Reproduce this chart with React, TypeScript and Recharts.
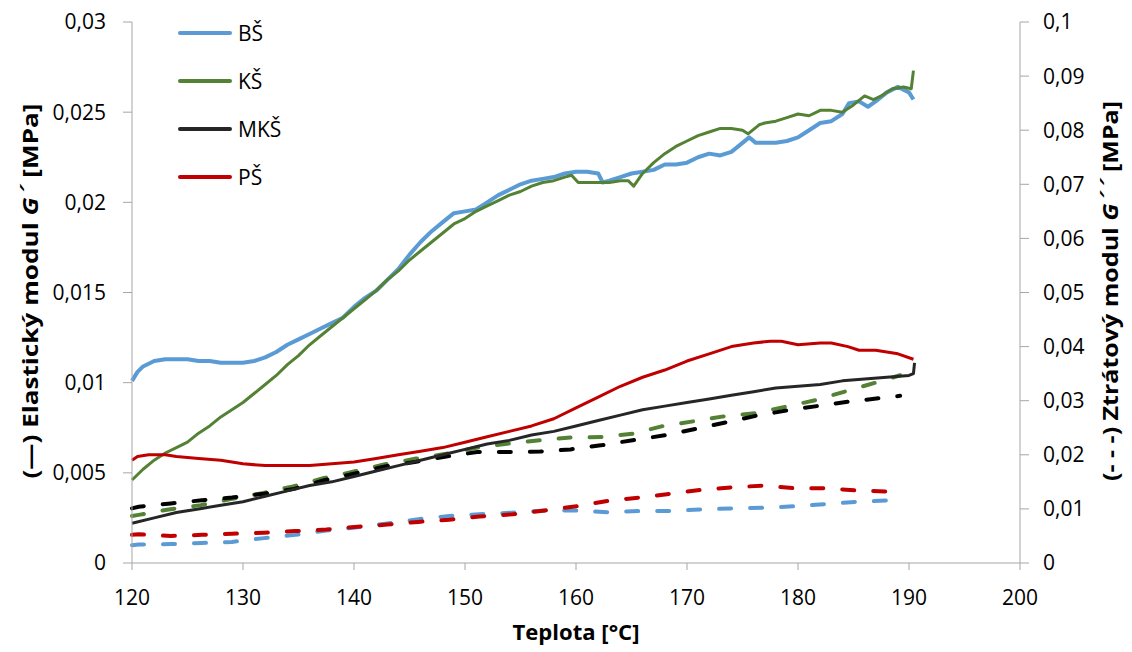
import { Legend, Line, LineChart, XAxis, YAxis } from "recharts";

const xTicks = [120, 130, 140, 150, 160, 170, 180, 190, 200];
const leftTicks = [0, 0.005, 0.01, 0.015, 0.02, 0.025, 0.03];
const rightTicks = [0, 0.01, 0.02, 0.03, 0.04, 0.05, 0.06, 0.07, 0.08, 0.09, 0.1];

const seriesNames = ["BŠ", "KŠ", "MKŠ", "PŠ"];
const seriesColors = ["#5B9BD5", "#548235", "#262626", "#C00000"];
const dashedColors = ["#5B9BD5", "#548235", "#000000", "#C00000"];

// G' (left axis), [teplota, MPa]
const bsElastic = [
  [120, 0.0101], [120.5, 0.0106], [121, 0.0109], [122, 0.0112], [123, 0.0113], [124, 0.0113],
  [125, 0.0113], [126, 0.0112], [127, 0.0112], [128, 0.0111], [129, 0.0111], [130, 0.0111],
  [131, 0.0112], [132, 0.0114], [133, 0.0117], [134, 0.0121], [135, 0.0124], [136, 0.0127],
  [137, 0.013], [138, 0.0133], [139, 0.0136], [140, 0.0142], [141, 0.0147], [142, 0.0151],
  [143, 0.0157], [144, 0.0163], [145, 0.0171], [146, 0.0178], [147, 0.0184], [148, 0.0189],
  [149, 0.0194], [150, 0.0195], [151, 0.0196], [152, 0.02], [153, 0.0204], [154, 0.0207],
  [155, 0.021], [156, 0.0212], [157, 0.0213], [158, 0.0214], [159, 0.0216], [160, 0.0217],
  [161, 0.0217], [162, 0.0216], [162.4, 0.0211], [163, 0.0212], [164, 0.0214], [165, 0.0216],
  [166, 0.0217], [167, 0.0218], [168, 0.0221], [169, 0.0221], [170, 0.0222], [171, 0.0225],
  [172, 0.0227], [173, 0.0226], [174, 0.0228], [175, 0.0233], [175.6, 0.0236], [176.2, 0.0233],
  [177, 0.0233], [178, 0.0233], [179, 0.0234], [180, 0.0236], [181, 0.024], [182, 0.0244],
  [183, 0.0245], [184, 0.0249], [184.6, 0.0255], [185.5, 0.0256], [186.3, 0.0253], [187, 0.0256],
  [188, 0.0261], [189, 0.0264], [190, 0.0261], [190.4, 0.0257],
];
const ksElastic = [
  [120, 0.0046], [121, 0.0052], [122, 0.0057], [123, 0.0061], [124, 0.0064], [125, 0.0067],
  [126, 0.0072], [127, 0.0076], [128, 0.0081], [129, 0.0085], [130, 0.0089], [131, 0.0094],
  [132, 0.0099], [133, 0.0104], [134, 0.011], [135, 0.0115], [136, 0.0121], [137, 0.0126],
  [138, 0.0131], [139, 0.0136], [140, 0.0141], [141, 0.0146], [142, 0.0151], [143, 0.0157],
  [144, 0.0162], [145, 0.0168], [146, 0.0173], [147, 0.0178], [148, 0.0183], [149, 0.0188],
  [150, 0.0191], [151, 0.0195], [152, 0.0198], [153, 0.0201], [154, 0.0204], [155, 0.0206],
  [156, 0.0209], [157, 0.0211], [158, 0.0212], [159, 0.0214], [159.6, 0.0215], [160.2, 0.0211],
  [161, 0.0211], [162, 0.0211], [163, 0.0211], [164, 0.0212], [164.7, 0.0212], [165.2, 0.0209],
  [166, 0.0216], [167, 0.0222], [168, 0.0227], [169, 0.0231], [170, 0.0234], [171, 0.0237],
  [172, 0.0239], [173, 0.0241], [174, 0.0241], [175, 0.024], [175.5, 0.0238], [176.5, 0.0243],
  [177, 0.0244], [178, 0.0245], [179, 0.0247], [180, 0.0249], [181, 0.0248], [182, 0.0251],
  [183, 0.0251], [184, 0.025], [185, 0.0254], [186, 0.0259], [186.8, 0.0257], [187.5, 0.0259],
  [188.5, 0.0263], [189.5, 0.0264], [190.2, 0.0263], [190.4, 0.0273],
];
const mksElastic = [
  [120, 0.0022], [122, 0.0025], [124, 0.0028], [126, 0.003], [128, 0.0032], [130, 0.0034],
  [132, 0.0037], [134, 0.004], [136, 0.0043], [138, 0.0045], [140, 0.0048], [142, 0.0051],
  [144, 0.0054], [146, 0.0057], [148, 0.006], [150, 0.0063], [152, 0.0066], [154, 0.0068],
  [156, 0.0071], [158, 0.0073], [160, 0.0076], [162, 0.0079], [164, 0.0082], [166, 0.0085],
  [168, 0.0087], [170, 0.0089], [172, 0.0091], [174, 0.0093], [176, 0.0095], [178, 0.0097],
  [180, 0.0098], [182, 0.0099], [184, 0.0101], [186, 0.0102], [188, 0.0103], [190, 0.0104],
  [190.4, 0.0105], [190.5, 0.0111],
];
const psElastic = [
  [120, 0.0057], [120.5, 0.0059], [121.5, 0.006], [123, 0.006], [124, 0.0059], [126, 0.0058],
  [128, 0.0057], [130, 0.0055], [132, 0.0054], [134, 0.0054], [136, 0.0054], [138, 0.0055],
  [140, 0.0056], [142, 0.0058], [144, 0.006], [146, 0.0062], [148, 0.0064], [150, 0.0067],
  [152, 0.007], [154, 0.0073], [156, 0.0076], [158, 0.008], [160, 0.0086], [162, 0.0092],
  [164, 0.0098], [166, 0.0103], [168, 0.0107], [170, 0.0112], [172, 0.0116], [174, 0.012],
  [176, 0.0122], [177.5, 0.0123], [178.5, 0.0123], [180, 0.0121], [182, 0.0122], [183, 0.0122],
  [184.5, 0.012], [185.5, 0.0118], [187, 0.0118], [189, 0.0116], [190.4, 0.0113],
];

// G'' (right axis), [teplota, MPa]
const bsLoss = [
  [120, 0.0033], [120.6, 0.0034], [123.5, 0.0035], [126.3, 0.0037], [129, 0.0039], [131.9, 0.0046],
  [134.7, 0.0052], [137.5, 0.006], [140.3, 0.0066], [143, 0.0073], [145.8, 0.0081], [148.6, 0.0087],
  [151.3, 0.009], [154.2, 0.0093], [157.2, 0.0097], [159.9, 0.0097], [162.8, 0.0094], [165.7, 0.0096],
  [168.5, 0.0096], [171.2, 0.0099], [174.1, 0.0101], [176.9, 0.0102], [179.8, 0.0105], [182.5, 0.0109],
  [185.3, 0.0113], [188.4, 0.0116], [189.4, 0.0116],
];
const ksLoss = [
  [120, 0.0087], [120.6, 0.0089], [123.3, 0.0099], [126.2, 0.0107], [128.9, 0.0118], [131.7, 0.0129],
  [134.4, 0.0141], [137.3, 0.0157], [140, 0.0169], [142.7, 0.0182], [145.6, 0.0193], [148.3, 0.0202],
  [151, 0.0213], [154, 0.0221], [156.8, 0.0227], [159.5, 0.0232], [162.4, 0.0233], [165.1, 0.0239],
  [167.8, 0.0253], [170.6, 0.0262], [173.3, 0.0271], [176.2, 0.0277], [178.9, 0.0289], [181.6, 0.0301],
  [184.4, 0.0318], [187.1, 0.0334], [189.2, 0.0347],
];
const mksLoss = [
  [120, 0.0101], [120.6, 0.0104], [123.5, 0.011], [126.3, 0.0116], [129, 0.0121], [131.9, 0.0128],
  [134.6, 0.0137], [137.3, 0.0153], [140.2, 0.0166], [142.9, 0.0179], [145.6, 0.0187], [148.3, 0.0197],
  [151.1, 0.0205], [154, 0.0205], [156.8, 0.0206], [159.5, 0.021], [162.4, 0.0218], [165.1, 0.0227],
  [168, 0.0236], [170.8, 0.0248], [173.5, 0.026], [176.2, 0.0272], [179, 0.0282], [181.7, 0.029],
  [184.5, 0.0298], [187.9, 0.0306], [189.2, 0.0309],
];
const psLoss = [
  [120, 0.0052], [120.6, 0.0053], [123.5, 0.005], [126.3, 0.0052], [129, 0.0054], [131.9, 0.0056],
  [134.7, 0.0059], [137.5, 0.0062], [140.3, 0.0067], [143, 0.0071], [145.8, 0.0076], [148.6, 0.008],
  [151.3, 0.0086], [154.3, 0.009], [157.2, 0.0097], [160.1, 0.0105], [162.9, 0.0115], [165.7, 0.0121],
  [168.5, 0.0128], [171.2, 0.0135], [174.1, 0.014], [176.9, 0.0143], [179.8, 0.0138], [182.5, 0.0138],
  [185.3, 0.0134], [188.4, 0.0132], [189.4, 0.0131],
];

const elastic = [bsElastic, ksElastic, mksElastic, psElastic];
const loss = [bsLoss, ksLoss, mksLoss, psLoss];

const toPoints = (rows: number[][]) => rows.map(([t, v]) => ({ t, v }));
const comma = (v: number) => String(v).replace(".", ",");

const font = "'Open Sans', sans-serif";
const accentFont = "'DejaVu Sans', sans-serif";
const axisGray = "#A6A6A6";
const tickStyle = { fontFamily: font, fontSize: 21, fill: "#000" };

type Part = { text: string; italic?: boolean; accent?: boolean };

function AxisTitle({ tx, ty, rot, len, parts }: { tx: number; ty: number; rot?: number; len: number; parts: Part[] }) {
  return (
    <text
      x={tx}
      y={ty}
      transform={rot ? `rotate(${rot} ${tx} ${ty})` : undefined}
      textAnchor="middle"
      dominantBaseline="central"
      fontFamily={font}
      fontWeight={700}
      fontSize={21}
      fill="#000"
      textLength={len}
      lengthAdjust="spacingAndGlyphs"
    >
      {parts.map((p, i) => (
        <tspan
          key={i}
          fontStyle={p.italic ? "italic" : "normal"}
          fontFamily={p.accent ? accentFont : undefined}
        >
          {p.text}
        </tspan>
      ))}
    </text>
  );
}

function LegendBox() {
  return (
    <div style={{ fontFamily: font, fontSize: 21, color: "#000" }}>
      {seriesNames.map((name, i) => (
        <div key={name} style={{ height: 48, display: "flex", alignItems: "center" }}>
          <div style={{ width: 54, height: 4, borderRadius: 2, background: seriesColors[i], marginRight: 6 }} />
          <span>{name}</span>
        </div>
      ))}
    </div>
  );
}

export default function App() {
  return (
    <div style={{ position: "absolute", left: 0, top: 0, background: "#fff" }}>
      <LineChart width={1132} height={652} margin={{ top: 22, right: 0, bottom: 0, left: 0 }}>
        <XAxis
          dataKey="t"
          type="number"
          domain={[120, 200]}
          ticks={xTicks}
          height={89}
          stroke={axisGray}
          tickSize={7}
          tickMargin={20}
          tick={tickStyle}
          allowDuplicatedCategory={false}
          label={<AxisTitle tx={576} ty={632} len={127} parts={[{ text: "Teplota [°C]" }]} />}
        />
        <YAxis
          yAxisId="left"
          domain={[0, 0.03]}
          ticks={leftTicks}
          width={132}
          stroke={axisGray}
          tickSize={9}
          tickMargin={17}
          tick={tickStyle}
          tickFormatter={comma}
          label={
            <AxisTitle
              tx={30}
              ty={291}
              rot={-90}
              len={375}
              parts={[
                { text: "(—) Elastický modul " },
                { text: "G", italic: true },
                { text: "´", italic: true, accent: true },
                { text: " [MPa]" },
              ]}
            />
          }
        />
        <YAxis
          yAxisId="right"
          orientation="right"
          domain={[0, 0.1]}
          ticks={rightTicks}
          width={112}
          stroke={axisGray}
          tickSize={9}
          tickMargin={14}
          tick={{ ...tickStyle, textAnchor: "start" }}
          tickFormatter={comma}
          label={
            <AxisTitle
              tx={1110}
              ty={291}
              rot={-90}
              len={380}
              parts={[
                { text: "(- - -) Ztrátový modul " },
                { text: "G", italic: true },
                { text: "´´", italic: true, accent: true },
                { text: " [MPa]" },
              ]}
            />
          }
        />
        <Legend
          content={<LegendBox />}
          layout="vertical"
          align="center"
          verticalAlign="middle"
          wrapperStyle={{ left: 178, top: 9, width: "auto" }}
        />
        {loss.map((rows, i) => (
          <Line
            key={"loss" + i}
            yAxisId="right"
            data={toPoints(rows)}
            dataKey="v"
            name={seriesNames[i] + " G''"}
            type="linear"
            stroke={dashedColors[i]}
            strokeWidth={4}
            strokeDasharray="12 19"
            strokeLinecap="round"
            dot={false}
            activeDot={false}
            legendType="none"
            isAnimationActive={false}
          />
        ))}
        {elastic.map((rows, i) => (
          <Line
            key={"el" + i}
            yAxisId="left"
            data={toPoints(rows)}
            dataKey="v"
            name={seriesNames[i]}
            type="linear"
            stroke={seriesColors[i]}
            strokeWidth={i === 0 ? 4 : 3}
            strokeLinejoin="round"
            dot={false}
            activeDot={false}
            isAnimationActive={false}
          />
        ))}
      </LineChart>
    </div>
  );
}
